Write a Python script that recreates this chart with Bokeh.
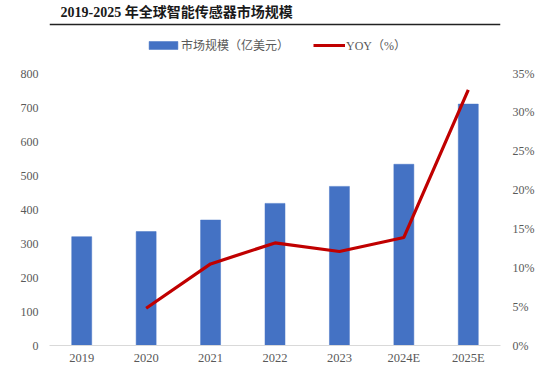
from bokeh.plotting import figure
from bokeh.layouts import column
from bokeh.models import (Range1d, LinearAxis, FixedTicker, PrintfTickFormatter,
                          Legend, LegendItem, Label, Span, BoxAnnotation)
from bokeh.embed import file_html
from bokeh.resources import INLINE

title_text = "2019-2025 年全球智能传感器市场规模"
categories = ["2019", "2020", "2021", "2022", "2023", "2024E", "2025E"]
market_size = [320, 335, 369, 418, 468, 533, 710]
yoy_categories = ["2020", "2021", "2022", "2023", "2024E", "2025E"]
yoy_pct = [4.8, 10.5, 13.2, 12.1, 13.9, 32.9]
left_ticks = [0, 100, 200, 300, 400, 500, 600, 700, 800]
right_ticks = [0, 5, 10, 15, 20, 25, 30, 35]
bar_label = "市场规模（亿美元）"
line_label = "YOY（%）"

W, H = 554, 376             # main chart; a thin footer strip below carries the bottom rule
FOOT_H = 7
FL, FR, FB = 49, 500, 345   # frame edges in px (frame top is the canvas top)
AXIS_TOP = 73               # pixel row of the top tick (800 / 35%)
stretch = FB / (FB - AXIS_TOP)

SERIF = "Liberation Serif, Noto Sans CJK SC"
GRAY = "#595959"

# category slots: each category occupies one unit, centred at index + 0.5
cat_pos = {c: i + 0.5 for i, c in enumerate(categories)}
bar_x = [cat_pos[c] for c in categories]
yoy_x = [cat_pos[c] for c in yoy_categories]

p = figure(width=W, height=H, x_range=Range1d(0, len(categories)),
           y_range=Range1d(0, left_ticks[-1] * stretch),
           output_backend="svg", toolbar_location=None,
           min_border_left=FL, min_border_right=W - FR, min_border_top=0,
           min_border_bottom=H - FB, y_axis_location=None, x_axis_location=None)
p.outline_line_color = None
p.xgrid.visible = False
p.ygrid.visible = False
p.background_fill_color = "white"
p.border_fill_color = "white"

p.extra_y_ranges = {"pct": Range1d(0, right_ticks[-1] * stretch)}

bars = p.vbar(x=bar_x, top=market_size, width=0.31, fill_color="#4472C4",
              line_color="#4472C4", line_width=0.5)
line = p.line(x=yoy_x, y=yoy_pct, y_range_name="pct", line_color="#C00000",
              line_width=3.2, line_join="round")

# title and rule under it (frame coordinates: x from frame left, y from frame bottom)
p.add_layout(Label(x=11, y=FB - 12, x_units="screen", y_units="screen", text=title_text,
                   text_font=SERIF, text_font_size="14px", text_font_style="bold",
                   text_color="#1a1a1a", text_baseline="middle"))
p.add_layout(Span(location=FB - 24, location_units="screen", dimension="width",
                  line_color="#222222", line_width=1.5))

common = dict(padding=0, margin=0, border_line_color=None, background_fill_alpha=0,
              label_text_font=SERIF, label_text_font_size="12px", label_text_color=GRAY,
              glyph_height=10, label_height=10)
leg1 = Legend(items=[LegendItem(label=bar_label, renderers=[bars])],
              location=(96, FB - 54), glyph_width=36, label_standoff=0, **common)
leg2 = Legend(items=[LegendItem(label=line_label, renderers=[line])],
              location=(264, FB - 54), glyph_width=32, label_standoff=1, **common)
p.add_layout(leg1, "center")
p.add_layout(leg2, "center")

left = LinearAxis(ticker=FixedTicker(ticks=left_ticks))
right = LinearAxis(y_range_name="pct", ticker=FixedTicker(ticks=right_ticks),
                   formatter=PrintfTickFormatter(format="%d%%"))
bottom = LinearAxis(ticker=FixedTicker(ticks=bar_x),
                    major_label_overrides={cat_pos[c]: c for c in categories})
for ax in (left, right, bottom):
    ax.major_tick_line_color = None
    ax.minor_tick_line_color = None
    ax.major_tick_out = 0
    ax.minor_tick_out = 0
    ax.major_label_text_font = SERIF
    ax.major_label_text_font_size = "12px"
    ax.major_label_text_color = GRAY
left.axis_line_color = None
right.axis_line_color = None
left.major_label_standoff = 11
right.major_label_standoff = 12
bottom.axis_line_color = "#d9d9d9"
bottom.axis_line_width = 1
bottom.major_label_text_font_size = "12.5px"
bottom.major_label_standoff = 5
p.add_layout(left, "left")
p.add_layout(right, "right")
p.add_layout(bottom, "below")

# footer strip: full-width frame (pixel units) holding the dark bottom rule
foot = figure(width=W, height=FOOT_H, x_range=Range1d(0, W), y_range=Range1d(0, FOOT_H),
              output_backend="svg", toolbar_location=None,
              min_border_left=0, min_border_right=0, min_border_top=0, min_border_bottom=0,
              x_axis_location=None, y_axis_location=None)
foot.outline_line_color = None
foot.xgrid.visible = False
foot.ygrid.visible = False
foot.background_fill_color = "white"
foot.border_fill_color = "white"
foot.add_layout(BoxAnnotation(left=8, right=548, bottom=3.5, top=5.5,
                              fill_color="#333333", fill_alpha=1, line_color=None))

layout = column(p, foot, spacing=0)
open("out.html", "w").write(file_html(layout, INLINE))
